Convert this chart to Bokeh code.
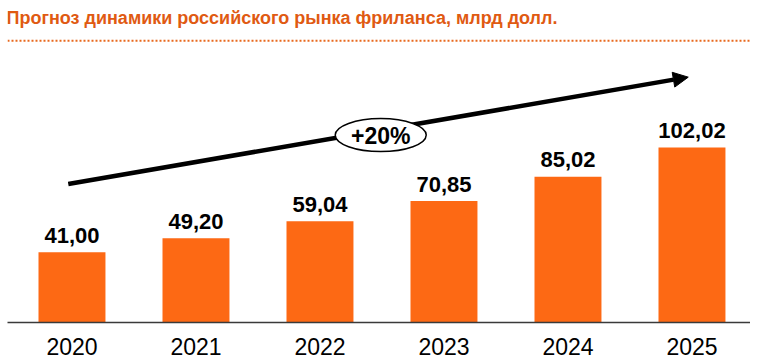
from bokeh.plotting import figure
from bokeh.models import Range1d, FixedTicker, Label, Span, Arrow, NormalHead, ColumnDataSource
from bokeh.core.properties import value
from bokeh.embed import file_html
from bokeh.resources import INLINE

# ---- data ----
years = [2020, 2021, 2022, 2023, 2024, 2025]
values = [41.00, 49.20, 59.04, 70.85, 85.02, 102.02]
value_labels = ["41,00", "49,20", "59,04", "70,85", "85,02", "102,02"]
tick_labels = ["2020", "2021", "2022", "2023", "2024", "2025"]
title_text = "Прогноз динамики российского рынка фриланса, млрд долл."
growth_label = "+20%"

FONT = "Liberation Sans"
BAR = "#FD6914"
TITLE_C = "#E05A12"

src = ColumnDataSource(dict(x=years, top=values, lab=value_labels))

p = figure(width=750, height=362, output_backend="svg", toolbar_location=None,
           x_range=Range1d(2019.480, 2025.472), y_range=Range1d(0, 187.8),
           y_axis_location=None, min_border_left=7, min_border_right=0,
           min_border_top=0, min_border_bottom=40)
p.outline_line_color = None
p.xgrid.visible = False
p.ygrid.visible = False
p.background_fill_color = "white"
p.border_fill_color = "white"

p.vbar(x="x", top="top", width=0.54, source=src, fill_color=BAR, line_color=None)
p.text(x="x", y="top", text="lab", source=src, text_align="center",
       text_baseline="alphabetic", y_offset=-17, text_font=value(FONT),
       text_font_style="bold", text_font_size="22px", text_color="black")

ax = p.xaxis[0]
ax.ticker = FixedTicker(ticks=years)
ax.major_label_overrides = {y: t for y, t in zip(years, tick_labels)}
ax.major_tick_line_color = None
ax.minor_tick_line_color = None
ax.axis_line_color = "#3a3a3a"
ax.axis_line_width = 1.5
ax.major_label_standoff = 9
ax.major_label_text_font = FONT
ax.major_label_text_font_size = "23px"
ax.major_label_text_color = "black"

# title and dotted rule
p.add_layout(Label(x=-1, y=305, x_units="screen", y_units="screen", text=title_text,
                   text_baseline="middle", text_font=FONT, text_font_style="bold",
                   text_font_size="18px", text_color=TITLE_C))
p.add_layout(Span(location=164.3, dimension="width", line_color="#E8691E",
                  line_width=2, line_dash="2 2"))

# growth arrow
arr = Arrow(x_start=2019.97, y_start=80.8, x_end=2024.97, y_end=143.1,
            line_width=4.5, line_color="black",
            end=NormalHead(size=15, fill_color="black", line_color="black", line_width=1))
arr.level = "underlay"
p.add_layout(arr)

p.ellipse(x=[2022.49], y=[109.3], width=91, height=33, width_units="screen",
          height_units="screen", fill_color="white", line_color="black", line_width=1.5)
p.text(x=[2022.49], y=[109.3], text=[growth_label], text_align="center",
       text_baseline="middle", y_offset=1, text_font=value(FONT), text_font_style="bold",
       text_font_size="23px", text_color="black")

open("out.html", "w").write(file_html(p, INLINE))
